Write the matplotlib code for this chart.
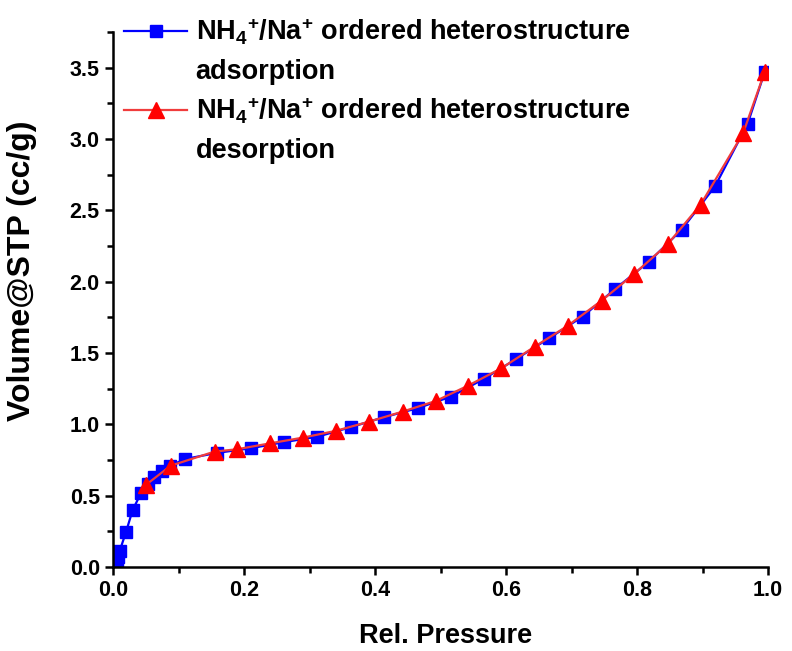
import matplotlib
matplotlib.use("Agg")
import matplotlib.pyplot as plt
from matplotlib.lines import Line2D
from matplotlib.ticker import MultipleLocator

plt.rcParams['font.family'] = ['Liberation Sans', 'DejaVu Sans']
plt.rcParams['font.weight'] = 'bold'
plt.rcParams['mathtext.fontset'] = 'custom'
plt.rcParams['mathtext.rm'] = 'Liberation Sans:bold'
plt.rcParams['mathtext.bf'] = 'Liberation Sans:bold'
plt.rcParams['mathtext.default'] = 'bf'

# Adsorption branch
ads_p = [0.006, 0.008, 0.010, 0.020, 0.030, 0.043, 0.053, 0.063, 0.075, 0.087, 0.110,
         0.159, 0.210, 0.261, 0.312, 0.363, 0.414, 0.465, 0.516, 0.566, 0.616,
         0.666, 0.717, 0.767, 0.818, 0.868, 0.919, 0.969, 0.995]
ads_v = [0.03, 0.07, 0.11, 0.248, 0.40, 0.52, 0.585, 0.632, 0.672, 0.708, 0.757,
         0.80, 0.832, 0.875, 0.913, 0.98, 1.05, 1.113, 1.194, 1.318, 1.459,
         1.604, 1.755, 1.95, 2.139, 2.363, 2.667, 3.107, 3.47]

# Desorption branch
des_p = [0.995, 0.962, 0.897, 0.847, 0.796, 0.746, 0.694, 0.644, 0.593, 0.542,
         0.493, 0.442, 0.391, 0.340, 0.290, 0.240, 0.189, 0.155, 0.088, 0.050]
des_v = [3.47, 3.04, 2.539, 2.263, 2.055, 1.867, 1.69, 1.545, 1.393, 1.271,
         1.164, 1.089, 1.019, 0.954, 0.907, 0.867, 0.825, 0.809, 0.71, 0.575]

lab1 = r"NH$_4{}^{+}$/Na$^{+}$ ordered heterostructure"
lab_ads = "adsorption"
lab_des = "desorption"

fig = plt.figure(figsize=(7.92, 6.51), dpi=100)
ax = fig.add_axes([0.1427, 0.129, 0.8270, 0.822])

ax.plot(ads_p, ads_v, color='#0000ff', lw=1.6, marker='s', ms=8.8,
        mfc='#0000ff', mec='#0000ff')
ax.plot(des_p, des_v, color='#f03c3c', lw=1.6, marker='^', ms=11,
        mfc='#ff0000', mec='#ff0000')

ax.set_xlim(0, 1.0)
ax.set_ylim(0, 3.75)
ax.xaxis.set_major_locator(MultipleLocator(0.2))
ax.xaxis.set_minor_locator(MultipleLocator(0.1))
ax.yaxis.set_major_locator(MultipleLocator(0.5))
ax.yaxis.set_minor_locator(MultipleLocator(0.25))
for s in ['top', 'right']:
    ax.spines[s].set_visible(False)
for s in ['left', 'bottom']:
    ax.spines[s].set_linewidth(1.8)
ax.tick_params(which='major', direction='out', length=6, width=1.8, labelsize=15.5)
ax.tick_params(which='minor', direction='out', length=4, width=1.8)
for t in ax.get_xticklabels() + ax.get_yticklabels():
    t.set_fontweight('bold')

ax.set_xlabel("Rel. Pressure", fontsize=19.5, fontweight='bold')
ax.set_ylabel("Volume@STP (cc/g)", fontsize=23, fontweight='bold')
ax.xaxis.set_label_coords(0.507, -0.105)
ax.yaxis.set_label_coords(-0.116, 0.553)

h1 = Line2D([], [], color='#0000ff', lw=1.6, marker='s', ms=8.8)
h2 = Line2D([], [], color='#f03c3c', lw=1.6, marker='^', ms=11, mfc='#ff0000', mec='#ff0000')
hb = Line2D([], [], linestyle='none', marker=None)
leg = ax.legend([h1, hb, h2, hb], [lab1, lab_ads, lab1, lab_des],
                loc='upper left', bbox_to_anchor=(0.0, 1.048), frameon=False,
                prop={'size': 19.5, 'weight': 'bold'}, handlelength=2.35,
                handletextpad=0.3, labelspacing=0.42, borderaxespad=0.0)

fig.savefig("out.png", dpi=100)
